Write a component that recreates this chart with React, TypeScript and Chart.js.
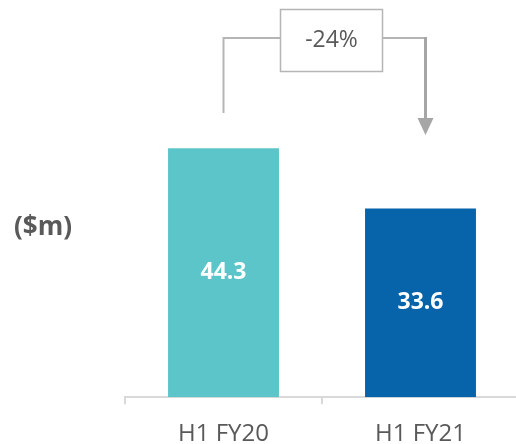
import React, { useEffect, useRef } from "react";
import { Chart, registerables } from "chart.js";

Chart.register(...registerables);

const categories = ["H1 FY20", "H1 FY21"];
const values = [44.3, 33.6];
const barColors = ["#5BC5C9", "#0763AA"];
const unitLabel = "($m)";
const yMax = 70;

const FONT = "'Open Sans', 'DejaVu Sans', sans-serif";
const TEXT_GREY = "#595959";
const LINE_GREY = "#b5b5b5";

const changePct = Math.round(((values[1] - values[0]) / values[0]) * 100);
const changeLabel = `${changePct}%`;

// Value labels inside the bars, the unit caption and the change bracket.
const annotations = {
  id: "annotations",
  afterDatasetsDraw(chart: Chart) {
    const ctx = chart.ctx;
    const meta = chart.getDatasetMeta(0);
    const bars = meta.data as any[];
    ctx.save();

    // values centred in each bar
    ctx.fillStyle = "#ffffff";
    ctx.font = `bold 23px ${FONT}`;
    ctx.textAlign = "center";
    ctx.textBaseline = "middle";
    bars.forEach((bar, i) => {
      const mid = (bar.y + bar.base) / 2;
      ctx.fillText(values[i].toFixed(1), bar.x, mid);
    });

    // unit caption on the left
    ctx.fillStyle = TEXT_GREY;
    ctx.font = `bold 26px ${FONT}`;
    ctx.textAlign = "left";
    ctx.fillText(unitLabel, 14, 228);

    // change bracket from the first bar to the second
    const leftX = Math.round(bars[0].x) - 0.5;
    const rightX = Math.round(bars[1].x) + 4.5;
    const railY = 38;
    const boxL = 280.5, boxR = 382.5, boxT = 9.5, boxB = 71.5;

    ctx.strokeStyle = LINE_GREY;
    ctx.lineWidth = 2;
    ctx.beginPath();
    ctx.moveTo(leftX, 113);
    ctx.lineTo(leftX, railY);
    ctx.lineTo(boxL, railY);
    ctx.moveTo(boxR, railY);
    ctx.lineTo(rightX, railY);
    ctx.stroke();

    ctx.lineWidth = 1.5;
    ctx.strokeRect(boxL, boxT, boxR - boxL, boxB - boxT);

    ctx.strokeStyle = "#a6a6a6";
    ctx.lineWidth = 3;
    ctx.beginPath();
    ctx.moveTo(rightX, railY - 1);
    ctx.lineTo(rightX, 120);
    ctx.stroke();
    ctx.fillStyle = "#a6a6a6";
    ctx.beginPath();
    ctx.moveTo(rightX - 8, 118);
    ctx.lineTo(rightX + 8, 118);
    ctx.lineTo(rightX, 135);
    ctx.closePath();
    ctx.fill();

    ctx.fillStyle = TEXT_GREY;
    ctx.font = `23px ${FONT}`;
    ctx.textAlign = "center";
    ctx.textBaseline = "middle";
    ctx.fillText(changeLabel, (boxL + boxR) / 2, (boxT + boxB) / 2);

    ctx.restore();
  },
};

export default function App() {
  const canvasRef = useRef<HTMLCanvasElement | null>(null);

  useEffect(() => {
    if (!canvasRef.current) return;
    const chart = new Chart(canvasRef.current, {
      type: "bar",
      data: {
        labels: categories,
        datasets: [
          {
            data: values,
            backgroundColor: barColors,
            borderWidth: 0,
            categoryPercentage: 1,
            barPercentage: 0.563,
          },
        ],
      },
      options: {
        responsive: false,
        animation: false,
        events: [],
        layout: { padding: { left: 125, right: 5, top: 4, bottom: 2 } },
        plugins: {
          legend: { display: false },
          tooltip: { enabled: false },
        },
        scales: {
          x: {
            type: "category",
            offset: true,
            grid: {
              offset: true,
              drawOnChartArea: false,
              drawTicks: true,
              tickLength: 7,
              color: "#d9d9d9",
              lineWidth: 2,
            },
            border: { display: true, color: "#d9d9d9", width: 2 },
            ticks: {
              color: TEXT_GREY,
              padding: 16,
              font: { family: FONT, size: 24 },
            },
          },
          y: {
            display: false,
            min: 0,
            max: yMax,
          },
        },
      },
      plugins: [annotations],
    });
    return () => chart.destroy();
  }, []);

  return (
    <div
      style={{
        position: "absolute",
        left: 0,
        top: 0,
        width: 516,
        height: 444,
        overflow: "hidden",
        background: "#ffffff",
      }}
    >
      <canvas ref={canvasRef} width={524} height={467} />
    </div>
  );
}
